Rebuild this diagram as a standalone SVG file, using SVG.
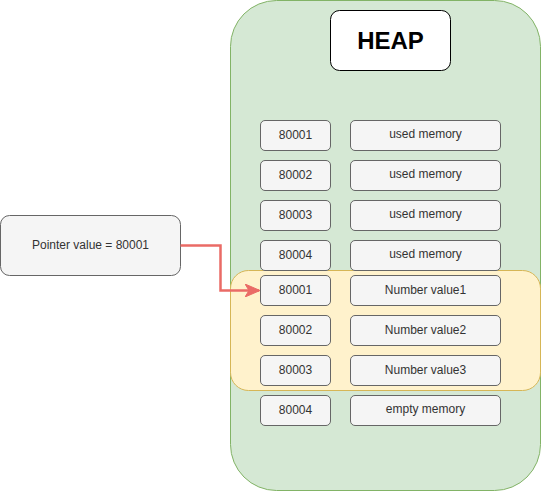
<svg xmlns="http://www.w3.org/2000/svg" width="541" height="491" viewBox="0 0 541 491">
<style>
.cell{fill:#f5f5f5;stroke:#666666;stroke-width:1}
.t{font-family:"Liberation Sans",Arial,sans-serif;font-size:12px;fill:#333333;text-anchor:middle;dominant-baseline:central}
</style>
<defs>
<marker id="ah" viewBox="0 0 15 13" refX="14" refY="6.5" markerWidth="15" markerHeight="13" orient="auto" markerUnits="userSpaceOnUse">
<path d="M0,0 L15,6.5 L0,13 L4,6.5 Z" fill="#ea6b66" stroke="#ea6b66" stroke-width="1"/>
</marker>
</defs>
<g id="heap-container"><rect x="230.5" y="0.5" width="310" height="490" rx="46" fill="#d5e8d4" stroke="#82b366"/></g>
<g id="heap-title"><rect x="330.5" y="10.5" width="120" height="60" rx="9" fill="#ffffff" stroke="#000000"/><text x="390.5" y="40" font-family="Liberation Sans,Arial,sans-serif" font-size="24" font-weight="bold" fill="#000" text-anchor="middle" dominant-baseline="central">HEAP</text></g>
<g id="highlight"><rect x="230.5" y="270.5" width="310" height="120" rx="18" fill="#fff2cc" stroke="#d6b656"/></g>
<g id="a1"><rect class="cell" x="260.5" y="120.5" width="70" height="30" rx="4.5"/><text class="t" x="295.5" y="134.5">80001</text></g>
<g id="v1"><rect class="cell" x="350.5" y="120.5" width="150" height="30" rx="4.5"/><text class="t" x="425.5" y="134">used memory</text></g>
<g id="a2"><rect class="cell" x="260.5" y="160.5" width="70" height="30" rx="4.5"/><text class="t" x="295.5" y="174.5">80002</text></g>
<g id="v2"><rect class="cell" x="350.5" y="160.5" width="150" height="30" rx="4.5"/><text class="t" x="425.5" y="174">used memory</text></g>
<g id="a3"><rect class="cell" x="260.5" y="200.5" width="70" height="30" rx="4.5"/><text class="t" x="295.5" y="214.5">80003</text></g>
<g id="v3"><rect class="cell" x="350.5" y="200.5" width="150" height="30" rx="4.5"/><text class="t" x="425.5" y="214">used memory</text></g>
<g id="a4"><rect class="cell" x="260.5" y="240.5" width="70" height="30" rx="4.5"/><text class="t" x="295.5" y="254.5">80004</text></g>
<g id="v4"><rect class="cell" x="350.5" y="240.5" width="150" height="30" rx="4.5"/><text class="t" x="425.5" y="254">used memory</text></g>
<g id="b1"><rect class="cell" x="260.5" y="275.5" width="70" height="30" rx="4.5"/><text class="t" x="295.5" y="289.5">80001</text></g>
<g id="n1"><rect class="cell" x="350.5" y="275.5" width="150" height="30" rx="4.5"/><text class="t" x="425.5" y="289.5">Number value1</text></g>
<g id="b2"><rect class="cell" x="260.5" y="315.5" width="70" height="30" rx="4.5"/><text class="t" x="295.5" y="329.5">80002</text></g>
<g id="n2"><rect class="cell" x="350.5" y="315.5" width="150" height="30" rx="4.5"/><text class="t" x="425.5" y="329.5">Number value2</text></g>
<g id="b3"><rect class="cell" x="260.5" y="355.5" width="70" height="30" rx="4.5"/><text class="t" x="295.5" y="369.5">80003</text></g>
<g id="n3"><rect class="cell" x="350.5" y="355.5" width="150" height="30" rx="4.5"/><text class="t" x="425.5" y="369.5">Number value3</text></g>
<g id="b4"><rect class="cell" x="260.5" y="395.5" width="70" height="30" rx="4.5"/><text class="t" x="295.5" y="409.5">80004</text></g>
<g id="n4"><rect class="cell" x="350.5" y="395.5" width="150" height="30" rx="4.5"/><text class="t" x="425.5" y="409">empty memory</text></g>
<g id="pointer"><rect class="cell" x="0.5" y="215.5" width="180" height="60" rx="9"/><text class="t" x="90.5" y="244.5">Pointer value = 80001</text></g>
<g id="connectors"><path d="M180.5,245.5 H220.5 V290.5 H259" fill="none" stroke="#ea6b66" stroke-width="2.5" marker-end="url(#ah)"/></g>
</svg>
